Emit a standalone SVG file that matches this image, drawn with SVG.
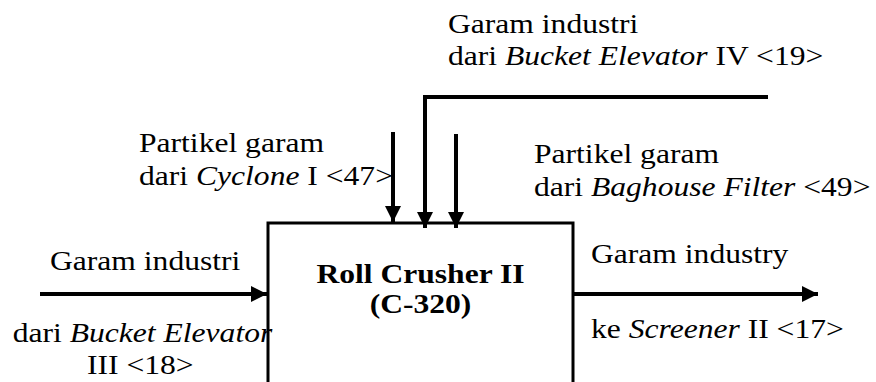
<svg xmlns="http://www.w3.org/2000/svg" width="876" height="382" viewBox="0 0 876 382">
<style>
.t{font-family:"Liberation Serif","Times New Roman",serif;font-size:27px;fill:#000}
.b{font-weight:bold;text-anchor:middle}
.ln{stroke:#000;stroke-width:4;fill:none}
.bx{stroke:#000;stroke-width:3;fill:#fff}
</style>
<defs>
<marker id="ah" markerUnits="userSpaceOnUse" markerWidth="16" markerHeight="16" viewBox="0 0 16 16" refX="16" refY="8" orient="auto">
<path d="M0,0 L16,8 L0,16 Z" fill="#000"/>
</marker>
</defs>
<rect fill="#fff" width="876" height="382"/>
<g id="node-roll-crusher">
<rect class="bx" x="268" y="223" width="305" height="200"/>
<text class="t b" font-family="Liberation Serif, serif" transform="matrix(1.17 0 0 1 420.5 283)">Roll Crusher II</text>
<text class="t b" font-family="Liberation Serif, serif" transform="matrix(1.17 0 0 1 420.5 313)">(C-320)</text>
</g>
<g id="connectors">
<line class="ln" x1="40" y1="294" x2="267" y2="294" marker-end="url(#ah)"/>
<line class="ln" x1="574" y1="294" x2="818" y2="294" marker-end="url(#ah)"/>
<line class="ln" x1="393" y1="132" x2="393" y2="222" marker-end="url(#ah)"/>
<polyline class="ln" points="768,97 425,97 425,228" marker-end="url(#ah)"/>
<line class="ln" x1="456" y1="134" x2="456" y2="228" marker-end="url(#ah)"/>
</g>
<g id="labels" font-family="Liberation Serif, serif">
<text class="t" transform="matrix(1.17 0 0 1 448 33)">Garam industri</text>
<text class="t" transform="matrix(1.17 0 0 1 448 65)">dari <tspan font-style="italic">Bucket Elevator</tspan> IV &lt;19&gt;</text>
<text class="t" transform="matrix(1.17 0 0 1 139 152)">Partikel garam</text>
<text class="t" transform="matrix(1.17 0 0 1 139 185)">dari <tspan font-style="italic">Cyclone</tspan> I &lt;47&gt;</text>
<text class="t" transform="matrix(1.17 0 0 1 534 163)">Partikel garam</text>
<text class="t" transform="matrix(1.17 0 0 1 534 196)">dari <tspan font-style="italic">Baghouse Filter</tspan> &lt;49&gt;</text>
<text class="t" transform="matrix(1.17 0 0 1 50 270)">Garam industri</text>
<text class="t" transform="matrix(1.17 0 0 1 12.7 342)">dari <tspan font-style="italic">Bucket Elevator</tspan></text>
<text class="t" transform="matrix(1.17 0 0 1 87 374)">III &lt;18&gt;</text>
<text class="t" transform="matrix(1.17 0 0 1 591 263)">Garam industry</text>
<text class="t" transform="matrix(1.17 0 0 1 591 338)">ke <tspan font-style="italic">Screener</tspan> II &lt;17&gt;</text>
</g>
</svg>
